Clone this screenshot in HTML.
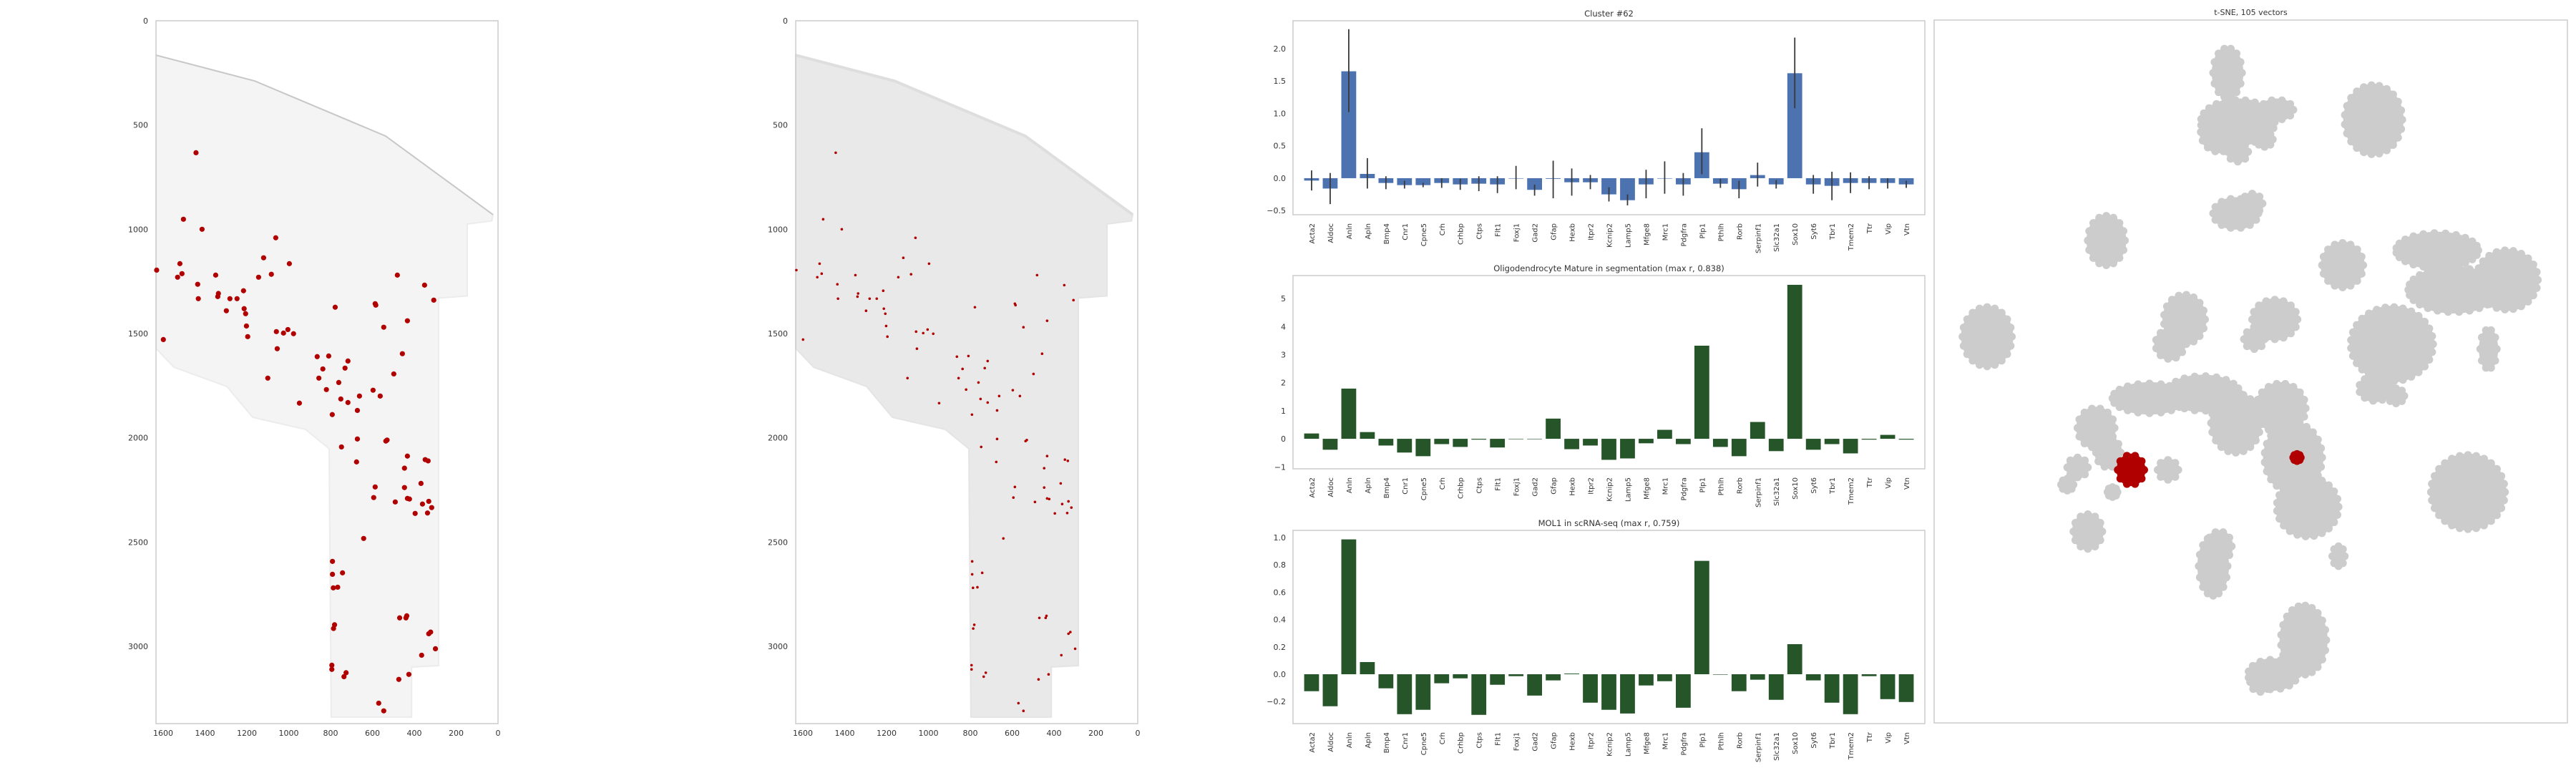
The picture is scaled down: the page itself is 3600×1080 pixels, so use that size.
<!DOCTYPE html>
<html><head><meta charset="utf-8"><title>Cluster 62 panel</title>
<style>
html,body{margin:0;padding:0;background:#fff;}
svg{display:block;}
text{font-family:"DejaVu Sans","Liberation Sans",sans-serif;fill:#333;}
</style></head>
<body>
<svg id="fig" xmlns="http://www.w3.org/2000/svg" width="3600" height="1080" viewBox="0 0 3600 1080">
<rect x="0" y="0" width="3600" height="1080" fill="#fff"/>
<g id="spatial-left"></g>
<g id="spatial-mid"></g>
<g id="bars1"></g>
<g id="bars2"></g>
<g id="bars3"></g>
<g id="tsne"></g>
</svg>
<script>
const NS="http://www.w3.org/2000/svg";
const genes=["Acta2","Aldoc","Anln","Apln","Bmp4","Cnr1","Cpne5","Crh","Crhbp","Ctps","Flt1","Foxj1","Gad2","Gfap","Hexb","Itpr2","Kcnip2","Lamp5","Mfge8","Mrc1","Pdgfra","Plp1","Pthlh","Rorb","Serpinf1","Slc32a1","Sox10","Syt6","Tbr1","Tmem2","Ttr","Vip","Vtn"];
const clusterValues=[-0.037,-0.16,1.65,0.066,-0.074,-0.107,-0.107,-0.074,-0.096,-0.085,-0.096,0,-0.18,-0.01,-0.063,-0.063,-0.25,-0.34,-0.096,0,-0.096,0.40,-0.085,-0.17,0.048,-0.096,1.62,-0.096,-0.118,-0.074,-0.074,-0.074,-0.096];
const clusterErrHi=[0.12,0.08,2.30,0.31,0.03,-0.04,-0.07,0.0,-0.01,0.03,0.03,0.19,-0.1,0.27,0.15,0.05,-0.14,-0.25,0.13,0.26,0.08,0.77,-0.01,-0.04,0.24,-0.03,2.17,0.05,0.1,0.09,0.03,0.0,-0.04];
const clusterErrLo=[-0.19,-0.40,1.02,-0.16,-0.17,-0.16,-0.14,-0.15,-0.18,-0.2,-0.23,-0.17,-0.27,-0.31,-0.27,-0.17,-0.36,-0.42,-0.31,-0.24,-0.27,0.06,-0.15,-0.31,-0.13,-0.16,1.08,-0.24,-0.34,-0.23,-0.17,-0.16,-0.15];
const oligoValues=[0.19,-0.39,1.79,0.24,-0.24,-0.49,-0.62,-0.19,-0.29,-0.03,-0.31,0,0,0.72,-0.37,-0.24,-0.75,-0.70,-0.16,0.32,-0.19,3.32,-0.29,-0.62,0.60,-0.44,5.49,-0.39,-0.19,-0.52,-0.03,0.14,-0.03];
const molValues=[-0.124,-0.234,0.986,0.089,-0.103,-0.292,-0.26,-0.066,-0.03,-0.297,-0.077,-0.014,-0.156,-0.045,0.005,-0.208,-0.26,-0.287,-0.082,-0.051,-0.245,0.829,0,-0.124,-0.04,-0.187,0.22,-0.045,-0.208,-0.292,-0.014,-0.182,-0.203];
const ticks1=[-0.5,0,0.5,1.0,1.5,2.0];
const ticks2=[-1,0,1,2,3,4,5];
const ticks3=[-0.2,0,0.2,0.4,0.6,0.8,1.0];
const spatialXTicks=[1600,1400,1200,1000,800,600,400,200,0];
const spatialYTicks=[0,500,1000,1500,2000,2500,3000];
// cluster #62 cell positions (image units x, y)
const cellX=[1503,1414,1062,1120,997,1520,1631,1510,1531,1349,1144,1083,481,351,1435,1336,1339,1432,1281,1247,1216,307,778,587,584,1298,1213,1206,433,1202,546,1059,1025,1004,977,1599,1196,1055,457,864,809,717,837,731,498,1100,856,761,820,597,563,662,751,717,949,672,792,672,748,536,530,676,433,348,334,447,587,447,368,594,491,433,423,331,361,317,396,337,1443,642,791,791,743,787,766,470,440,436,781,786,331,322,299,365,794,794,726,736,426,474,570,546];
const cellY=[952,1000,1041,1137,1165,1165,1196,1213,1230,1220,1230,1216,1220,1268,1264,1308,1323,1333,1333,1333,1295,1340,1374,1357,1364,1391,1381,1405,1439,1464,1470,1491,1498,1481,1501,1529,1515,1573,1597,1611,1608,1632,1670,1666,1694,1714,1714,1735,1769,1772,1800,1800,1814,1831,1834,1869,1889,2006,2044,2016,2011,2116,2088,2105,2111,2146,2236,2239,2219,2287,2308,2291,2294,2305,2318,2335,2363,2361,633,2483,2593,2655,2648,2720,2717,2864,2864,2854,2897,2915,2940,2932,3012,3043,3091,3111,3127,3146,3135,3159,3273,3310];
const tissueX=[1634,1162,537,24,30,147,147,284,284,413,413,797,807,920,1172,1296,1548,1634];
const tissueY=[165,289,553,930,960,975,1320,1330,3093,3100,3340,3340,2053,1960,1902,1754,1662,1572];
// t-SNE blobs (normalized box coords): cx, cy, rx, ry
const blobCX=[720,745,840,700,745,810,1075,740,780,425,135,615,580,835,785,1000,1230,1400,1270,1120,1355,1080,1130,530,660,740,400,430,850,880,915,990,575,355,330,380,440,1305,685,700,905,830,800];
const blobCY=[150,250,225,270,310,285,245,435,415,490,685,650,700,650,690,540,510,570,590,700,710,790,805,810,800,860,870,920,830,930,1030,1130,955,950,985,1080,1000,1000,1150,1110,1300,1370,1385];
const blobRX=[35,90,40,45,25,20,70,55,25,45,60,50,35,55,25,50,100,75,110,100,20,40,20,90,90,60,45,30,60,70,75,15,25,25,15,35,12,90,35,30,55,60,25];
const blobRY=[50,45,20,40,20,15,70,30,20,50,60,50,30,40,20,45,35,60,45,75,40,25,15,30,35,60,40,30,50,70,60,20,20,20,12,35,10,75,60,30,70,30,20];
const redCX=[485,889];const redCY=[955,930];const redRX=[32,9];const redRY=[30,7];

function el(tag,attrs,parent){const e=document.createElementNS(NS,tag);for(const k in attrs)e.setAttribute(k,attrs[k]);if(parent)parent.appendChild(e);return e;}

// ---------- spatial plots ----------
function spatial(gid,right,isSeg){
  const g=document.getElementById(gid);
  const sx=v=>right-v*0.2925, sy=v=>29+v*0.2913;
  const left=sx(1634);
  const pts=tissueX.map((x,i)=>sx(x).toFixed(1)+","+sy(tissueY[i]).toFixed(1)).join(" ");
  const tissue=el("polygon",{points:pts,fill:isSeg?"#e9e9e9":"#f4f4f4",stroke:isSeg?"#e4e4e4":"#ececec","stroke-width":"2"},g);
  
  
  const edge=el("polyline",{points:tissueX.slice(0,4).map((x,i)=>sx(x)+","+sy(tissueY[i])).join(" "),fill:"none",stroke:isSeg?"#dedede":"#c8c8c8","stroke-width":isSeg?"4":"2"},g);
  
  
  const frame=el("rect",{x:left,y:29,width:right-left,height:1011-29,fill:"none",stroke:"#cccccc","stroke-width":"1.5"},g);
  
  
  for(let i=0;i<cellX.length;i++){
    const c=el("circle",{cx:sx(cellX[i]),cy:sy(cellY[i]),r:isSeg?1.8:3.6,fill:"#b00000"},g);
    
    
  }
  spatialXTicks.forEach(v=>{const t=el("text",{x:sx(v),y:1028,"font-size":"11","text-anchor":"middle"},g);t.textContent=v;
    
    });
  spatialYTicks.forEach(v=>{const t=el("text",{x:left-11,y:sy(v)+4,"font-size":"11","text-anchor":"end"},g);t.textContent=v;
    
    });
}
spatial("spatial-left",696,false);
spatial("spatial-mid",1590,true);

// ---------- bar charts ----------
function bars(gid,title,vals,ymin,ymax,top,bottom,ticks,color,errHi,errLo,dec){
  const g=document.getElementById(gid);
  const L=1807,R=2690;
  const xs=i=>L+(R-L)*(i+1)/34;
  const ys=v=>bottom-(v-ymin)/(ymax-ymin)*(bottom-top);
  const bw=(R-L)/34*0.8;
  const tt=el("text",{x:(L+R)/2,y:top-6,"font-size":"11.5","text-anchor":"middle","font-family":"Liberation Sans, sans-serif"},g);tt.textContent=title;
  
  
  vals.forEach((v,i)=>{
    const y0=ys(0),y1=ys(v);
    const b=el("rect",{x:xs(i)-bw/2,y:Math.min(y0,y1),width:bw,height:Math.max(Math.abs(y1-y0),0.6),fill:color},g);
    
    
  });
  if(errHi){errHi.forEach((h,i)=>{
    const l=el("line",{x1:xs(i),x2:xs(i),y1:ys(h),y2:ys(errLo[i]),stroke:"#3a3a3a","stroke-width":"1.8"},g);
    
    
  });}
  const f=el("rect",{x:L,y:top,width:R-L,height:bottom-top,fill:"none",stroke:"#cccccc","stroke-width":"1.5"},g);
  
  
  ticks.forEach(v=>{const t=el("text",{x:L-10,y:ys(v)+4,"font-size":"11","text-anchor":"end"},g);
    t.textContent=(v<0?"\u2212":"")+Math.abs(v).toFixed(dec);
    
    });
  genes.forEach((n,i)=>{const x=xs(i)+4,y=bottom+12;
    const t=el("text",{x:x,y:y,"font-size":"10","text-anchor":"end",transform:"rotate(-90 "+x+" "+y+")"},g);t.textContent=n;
    
    });
}
bars("bars1","Cluster #62",clusterValues,-0.564,2.43,29,300,ticks1,"#4c72b0",clusterErrHi,clusterErrLo,1);
bars("bars2","Oligodendrocyte Mature in segmentation (max r, 0.838)",oligoValues,-1.07,5.82,385,655,ticks2,"#27552a",null,null,0);
bars("bars3","MOL1 in scRNA-seq (max r, 0.759)",molValues,-0.361,1.052,741,1011,ticks3,"#27552a",null,null,1);

// ---------- t-SNE ----------
(function(){
  const g=document.getElementById("tsne");
  const L=2703,R=3588,T=28,B=1010;
  const px=z=>L+(z-6)/1541*(R-L), py=z=>T+(z-43)/1425*(B-T);
  const kx=(R-L)/1541, ky=(B-T)/1425;
  const t=el("text",{x:(L+R)/2,y:T-7,"font-size":"11","text-anchor":"middle"},g);t.textContent="t-SNE, 105 vectors";
  
  
  function blob(cx,cy,rx,ry,col,name){
    const e=el("ellipse",{cx:px(cx),cy:py(cy),rx:rx*kx+2,ry:ry*ky+2,fill:col},g);
    
    
    const n=Math.max(8,Math.round((rx+ry)/6));
    for(let k=0;k<n;k++){const a=k/n*Math.PI*2;
      const c=el("circle",{cx:px(cx)+Math.cos(a)*rx*kx,cy:py(cy)+Math.sin(a)*ry*ky,r:5.5,fill:col},g);
      
      }
  }
  blobCX.forEach((c,i)=>blob(c,blobCY[i],blobRX[i],blobRY[i],"#cccccc","tsne-cluster"));
  redCX.forEach((c,i)=>blob(c,redCY[i],redRX[i],redRY[i],"#b00000","tsne-highlight-cluster"));
  const f=el("rect",{x:L,y:T,width:R-L,height:B-T,fill:"none",stroke:"#cccccc","stroke-width":"1.5"},g);
  
  
})();
</script>
</body></html>
